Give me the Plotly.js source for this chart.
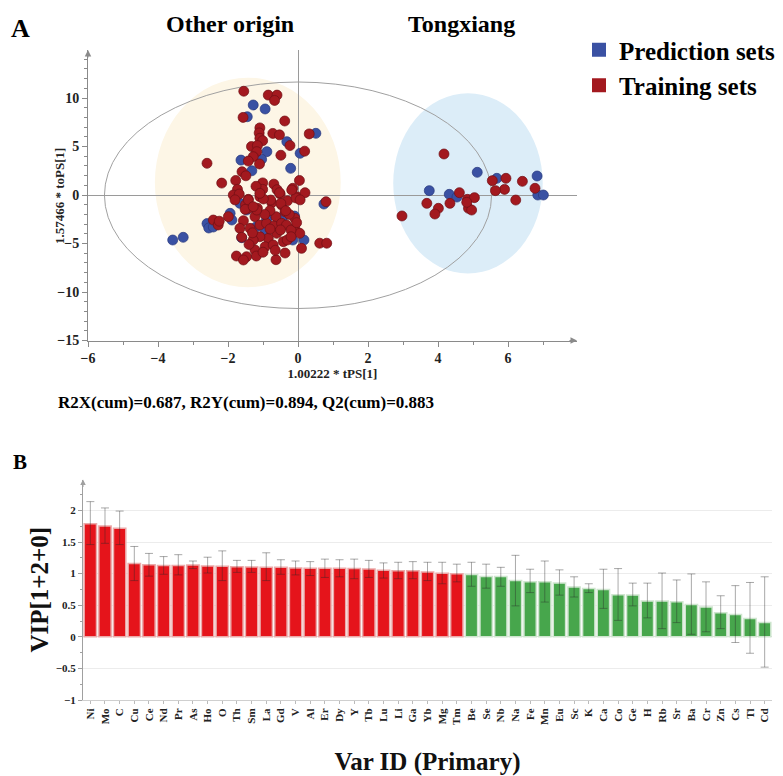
<!DOCTYPE html>
<html>
<head>
<meta charset="utf-8">
<script src="https://cdn.plot.ly/plotly-3.0.1.min.js"></script>
<style>html,body{margin:0;padding:0;background:#fff;}#chart{width:783px;height:776px;}</style>
</head>
<body>
<div id="chart"></div>
<script>
// ---- Panel A: OPLS-DA score plot ----
const trainX = [-1.55,-0.85,-0.6,-0.67,-1.57,-0.38,-1.09,-1.11,-0.72,-0.53,0.32,-1.09,-1.01,-0.23,-1.33,-1.16,-1.18,0.19,-0.49,-1.28,-1.42,-2.6,-1.1,-1.6,-1.49,-2.18,-1.78,-1.01,-0.69,0.04,
  -1.73,-1.85,-1.68,-1.42,-1.01,-1.09,-0.51,-0.75,-1.16,-1.4,-1.23,-0.47,-0.37,-0.63,-0.15,-0.04,0.2,0.8,-2.42,-2.28,-1.99,-1.56,-1.66,-1.37,-1.09,-0.9,-0.69,-0.47,-0.33,-0.09,-0.09,0.05,-0.61,-0.85,-1.09,-1.28,-1.61,-0.94,-0.71,-0.42,-0.31,-1.23,-1.47,-1.76,-1.19,-1.56,-0.63,-0.37,0.1,0.62,0.82,-0.2,-0.04,
  -1.2,-0.6,-0.3,-0.8,-1.5,-0.95,-0.25,-0.5,-1.3,-0.8,-0.2,-0.65,-1.0,-1.4,-2.25,-0.06,0.06,-0.78,-0.53,-0.49,-0.35,-1.8,-1.42,-1.51,-1.18,-0.99,-1.09,-1.28,-0.18,
  4.17,2.97,3.68,4.01,3.91,4.34,4.61,4.84,5.04,4.87,4.96,5.55,5.94,5.9,5.64,6.41,6.22,6.77,4.82];
const trainY = [10.7,10.3,10.3,9.75,8.0,7.63,6.92,6.4,6.35,6.2,6.3,5.85,5.6,5.1,5.0,5.1,4.47,4.52,4.1,3.95,3.5,3.27,3.2,2.4,1.98,1.23,1.5,1.25,1.12,1.5,
  0.58,0.0,0.1,-0.45,0.58,-0.17,0.1,-0.79,-1.37,-1.37,-2.23,-1.03,-1.72,-2.23,0.69,-0.17,0.24,-0.69,-2.58,-3.09,-2.23,-2.65,-3.44,-3.44,-3.09,-2.92,-3.2,-2.92,-3.09,-2.4,-3.44,-3.95,-3.95,-4.47,-4.3,-4.64,-4.36,-5.33,-5.15,-4.81,-4.64,-5.67,-6.36,-6.29,-6.29,-6.7,-6.67,-5.98,-5.5,-4.97,-4.97,-3.61,-2.85,
  0.9,0.55,-0.6,-1.6,-1.0,-2.0,-2.0,-3.6,-3.9,-3.5,-4.3,-5.7,-5.9,-5.1,-2.7,-0.3,-0.5,-0.52,0.24,-0.86,-1.62,-0.5,-0.52,-1.48,-1.55,-0.41,0.17,-1.2,0.52,
  4.23,-2.16,-0.86,-1.37,-1.96,-0.86,0.24,-0.45,-0.27,-1.37,-1.55,1.48,1.72,0.58,0.45,1.41,-0.52,0.69,-0.75];
const predX = [-1.28,-0.94,-1.45,0.51,-0.32,-0.89,0.06,-1.63,-1.04,-1.32,-0.21,-3.58,-3.28,-2.6,-2.55,-2.42,-1.94,-1.89,-1.66,-1.47,-0.85,-0.9,-0.94,-0.61,-0.1,-0.15,0.17,0.74,-1.2,-0.42,-1.61,
  3.75,4.32,4.54,5.12,5.68,6.83,6.85,7.01];
const predY = [9.28,8.87,8.07,6.36,5.5,4.47,4.3,3.6,3.68,2.5,2.75,-4.64,-4.36,-2.95,-3.4,-3.3,-1.89,-2.58,-0.86,-1.55,-2.17,-2.58,-3.61,-3.27,-2.17,-4.64,-4.64,-0.93,-3.3,-2.2,-4.4,
  0.45,0.07,-0.21,2.34,1.72,1.96,0,0];
const groupLabels = ['Other origin', 'Tongxiang'];
const seriesNames = ['Prediction sets', 'Training sets'];
const statsText = 'R2X(cum)=0.687, R2Y(cum)=0.894, Q2(cum)=0.883';
const xTitleA = '1.00222 * tPS[1]';
const yTitleA = '1.57466 * toPS[1]';

// ---- Panel B: VIP plot ----
const vipNames = ['Ni','Mo','C','Cu','Ce','Nd','Pr','As','Ho','O','Th','Sm','La','Gd','V','Al','Er','Dy','Y','Tb','Lu','Li','Ga','Yb','Mg','Tm',
  'Be','Se','Nb','Na','Fe','Mn','Eu','Sc','K','Ca','Co','Ge','H','Rb','Sr','Ba','Cr','Zn','Cs','Tl','Cd'];
const vipValues = [1.79,1.755,1.72,1.16,1.14,1.13,1.13,1.135,1.12,1.115,1.11,1.105,1.10,1.10,1.09,1.085,1.085,1.085,1.08,1.075,1.055,1.047,1.045,1.026,1.005,1.0,
  0.985,0.955,0.953,0.89,0.87,0.87,0.85,0.79,0.765,0.75,0.665,0.66,0.565,0.565,0.555,0.51,0.47,0.38,0.355,0.29,0.225];
const vipErrPlus = [0.35,0.285,0.27,0.27,0.18,0.14,0.17,0.065,0.14,0.245,0.10,0.105,0.23,0.12,0.11,0.105,0.145,0.135,0.15,0.135,0.115,0.133,0.145,0.154,0.175,0.15,
  0.195,0.195,0.147,0.40,0.20,0.33,0.21,0.16,0.075,0.32,0.415,0.19,0.285,0.445,0.345,0.485,0.40,0.27,0.455,0.57,0.725];
const vipErrMinus = [0.33,0.275,0.26,0.27,0.18,0.14,0.15,0.055,0.11,0.225,0.09,0.085,0.21,0.11,0.11,0.115,0.145,0.135,0.16,0.135,0.125,0.127,0.125,0.136,0.165,0.13,
  0.185,0.185,0.153,0.40,0.17,0.32,0.19,0.16,0.065,0.30,0.405,0.17,0.265,0.435,0.33,0.47,0.39,0.25,0.445,0.55,0.705];

const SERIF = 'Liberation Serif, Times New Roman, serif';
const W = 783, H = 776;
const px = v => v / W;
const py = v => (H - v) / H;

const RED = '#a3191f', BLUE = '#3a51a3';

const traces = [
  {x:[null], y:[null], type:'scatter', mode:'markers', name:seriesNames[0], xaxis:'x', yaxis:'y',
   marker:{symbol:'square', size:14, color:BLUE}},
  {x:[null], y:[null], type:'scatter', mode:'markers', name:seriesNames[1], xaxis:'x', yaxis:'y',
   marker:{symbol:'square', size:14, color:RED}},
  {x:predX, y:predY, type:'scatter', mode:'markers', name:seriesNames[0], showlegend:false, xaxis:'x', yaxis:'y',
   marker:{size:10, color:BLUE, line:{color:'#2a3a7c', width:0.7}}},
  {x:trainX, y:trainY, type:'scatter', mode:'markers', name:seriesNames[1], showlegend:false, xaxis:'x', yaxis:'y',
   marker:{size:10, color:RED, line:{color:'#6e1015', width:0.7}}},
  {x:vipNames, y:vipValues, type:'bar', xaxis:'x2', yaxis:'y2', showlegend:false,
   marker:{color:vipValues.map(v => v >= 1 ? '#e5141b' : '#47a64c'),
           line:{color:vipValues.map(v => v >= 1 ? '#eba9a9' : '#cfe5cf'), width:1.5}},
   error_y:{type:'data', symmetric:false, array:vipErrPlus, arrayminus:vipErrMinus,
            color:'rgba(40,40,40,0.4)', thickness:1, width:4}}
];

const tickFontA = {family:SERIF, size:14, color:'#222', weight:'bold'};
const layout = {
  width:W, height:H, margin:{l:0, r:0, t:0, b:0},
  paper_bgcolor:'#fff', plot_bgcolor:'rgba(0,0,0,0)',
  showlegend:true,
  legend:{x:px(579), y:py(27), xanchor:'left', yanchor:'top', bgcolor:'rgba(0,0,0,0)',
          font:{family:SERIF, size:25, color:'#000', weight:'bold'}, tracegroupgap:0, itemwidth:30},
  xaxis:{domain:[px(88), px(577)], range:[-6, 7.97], anchor:'y', showgrid:false,
         showline:true, linecolor:'#8a8a8a', linewidth:1, ticks:'outside', ticklen:5, tickcolor:'#8a8a8a',
         dtick:2, tick0:-6, minor:{dtick:1, ticks:'outside', ticklen:3, tickcolor:'#8a8a8a'},
         zeroline:true, zerolinecolor:'#9a9a9a', zerolinewidth:1, tickfont:tickFontA, automargin:false,
         title:{text:xTitleA, font:{family:SERIF, size:13, color:'#222', weight:'bold'}, standoff:0}},
  yaxis:{domain:[py(340.5), py(50)], range:[-15, 14.95], anchor:'x', showgrid:false,
         showline:true, linecolor:'#8a8a8a', linewidth:1, ticks:'outside', ticklen:5, tickcolor:'#8a8a8a',
         dtick:5, tick0:-15, minor:{dtick:1, ticks:'outside', ticklen:3, tickcolor:'#8a8a8a'},
         zeroline:true, zerolinecolor:'#9a9a9a', zerolinewidth:1, tickfont:tickFontA, automargin:false},
  xaxis2:{domain:[px(83), px(772)], anchor:'y2', type:'category', range:[-0.5, 46.5], showgrid:false,
          showline:true, linecolor:'#cfcfcf', linewidth:1, ticks:'outside', ticklen:3, tickcolor:'#bbb',
          tickangle:-90, tickfont:{family:SERIF, size:11, color:'#222', weight:'bold'}, automargin:false,
          title:{text:'Var ID (Primary)', font:{family:SERIF, size:25, color:'#111', weight:'bold'}, standoff:28}},
  yaxis2:{domain:[py(700), py(479.5)], anchor:'x2', range:[-1, 2.49], showgrid:true, gridcolor:'#ececec', gridwidth:1,
          showline:true, linecolor:'#a0a0a0', linewidth:1, ticks:'outside', ticklen:4, tickcolor:'#a0a0a0',
          dtick:0.5, tick0:0, minor:{dtick:0.25, ticks:'outside', ticklen:2, tickcolor:'#a0a0a0'},
          zeroline:true, zerolinecolor:'#dcdcdc', zerolinewidth:1,
          tickfont:{family:SERIF, size:11, color:'#222', weight:'bold'}, automargin:false,
          title:{text:'VIP[1+2+0]', font:{family:SERIF, size:25, color:'#111', weight:'bold'}, standoff:0}},
  bargap:0.16,
  shapes:[
    {type:'circle', xref:'x', yref:'y', x0:-4.09, x1:1.22, y0:-9.5, y1:12.1, fillcolor:'#fdf6e6', line:{width:0}, layer:'below'},
    {type:'circle', xref:'x', yref:'y', x0:2.72, x1:6.99, y0:-8.1, y1:10.5, fillcolor:'#dcedf8', line:{width:0}, layer:'below'},
    {type:'circle', xref:'x', yref:'y', x0:-5.53, x1:5.53, y0:-11.7, y1:11.65, fillcolor:'rgba(0,0,0,0)', line:{color:'#a0a0a0', width:1}, layer:'below'}
  ],
  annotations:[
    {text:'A', xref:'paper', yref:'paper', x:px(20), y:py(29), xanchor:'center', yanchor:'middle', showarrow:false,
     font:{family:SERIF, size:26, color:'#000', weight:'bold'}},
    {text:groupLabels[0], xref:'paper', yref:'paper', x:px(230), y:py(24), xanchor:'center', yanchor:'middle', showarrow:false,
     font:{family:SERIF, size:24, color:'#000', weight:'bold'}},
    {text:groupLabels[1], xref:'paper', yref:'paper', x:px(461), y:py(24), xanchor:'center', yanchor:'middle', showarrow:false,
     font:{family:SERIF, size:24, color:'#000', weight:'bold'}},
    {text:yTitleA, xref:'paper', yref:'paper', x:px(59), y:py(196), xanchor:'center', yanchor:'middle', textangle:-90, showarrow:false,
     font:{family:SERIF, size:13, color:'#222', weight:'bold'}},
    {text:statsText, xref:'paper', yref:'paper', x:px(246), y:py(403), xanchor:'center', yanchor:'middle', showarrow:false,
     font:{family:SERIF, size:17, color:'#000', weight:'bold'}},
    {text:'B', xref:'paper', yref:'paper', x:px(20), y:py(462), xanchor:'center', yanchor:'middle', showarrow:false,
     font:{family:SERIF, size:21, color:'#000', weight:'bold'}},
    {text:'', xref:'x', yref:'y', x:7.97, y:-15, ax:-9, ay:0, showarrow:true, arrowhead:2, arrowsize:1.3, arrowwidth:1, arrowcolor:'#8a8a8a'},
    {text:'', xref:'x', yref:'y', x:-6, y:14.95, ax:0, ay:9, showarrow:true, arrowhead:2, arrowsize:1.3, arrowwidth:1, arrowcolor:'#8a8a8a'},
    {text:'', xref:'x2 domain', yref:'y2', x:0, y:2.49, ax:0, ay:9, showarrow:true, arrowhead:2, arrowsize:1.1, arrowwidth:1, arrowcolor:'#a0a0a0'}
  ]
};

Plotly.newPlot('chart', traces, layout, {staticPlot:true, displayModeBar:false});
</script>
</body>
</html>
